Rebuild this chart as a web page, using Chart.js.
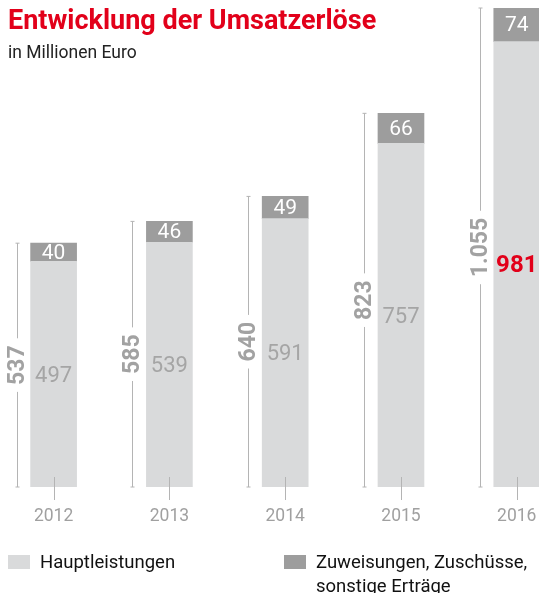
<!DOCTYPE html>
<html lang="de">
<head>
    <meta charset="UTF-8">
    <title>Entwicklung der Umsatzerlöse</title>
    <script src="https://cdn.jsdelivr.net/npm/chart.js"></script>
    <style>
        body {
            margin: 0;
            font-family: 'Roboto', sans-serif;
            background: #fff;
        }
        .wrap {
            position: relative;
            width: 539px;
            height: 593px;
            overflow: hidden;
        }
        .chart-box {
            position: absolute;
            left: 0;
            top: 0;
            width: 539px;
            height: 593px;
        }
        h1 {
            position: absolute;
            left: 8px;
            top: 4px;
            margin: 0;
            font-size: 27px;
            font-weight: bold;
            color: #e2001a;
            white-space: nowrap;
        }
        .sub {
            position: absolute;
            left: 8px;
            top: 42px;
            font-size: 17.5px;
            color: #222;
        }
        .legend-item {
            position: absolute;
            font-size: 18.5px;
            color: #111;
            line-height: 24px;
        }
        .legend-item span.box {
            position: absolute;
            left: 0;
            top: 5px;
            width: 22px;
            height: 14px;
        }
        .legend-item span.txt {
            display: block;
            margin-left: 32px;
        }
    </style>
</head>
<body>
<div class="wrap">
    <div class="chart-box"><canvas id="umsatzChart"></canvas></div>
    <h1 id="title"></h1>
    <div class="sub" id="subtitle"></div>
    <div class="legend-item" id="leg0" style="left:8px; top:550px; width:220px;"><span class="box"></span><span class="txt"></span></div>
    <div class="legend-item" id="leg1" style="left:284px; top:550px; width:255px;"><span class="box"></span><span class="txt"></span></div>
</div>

<script>
    const titleText = "Entwicklung der Umsatzerlöse";
    const subtitleText = "in Millionen Euro";

    const years = [2012, 2013, 2014, 2015, 2016];
    const hauptleistungen = [497, 539, 591, 757, 981];
    const zuweisungen = [40, 46, 49, 66, 74];
    const totals = [537, 585, 640, 823, 1055];
    const totalLabels = ["537", "585", "640", "823", "1.055"];
    const seriesNames = ["Hauptleistungen", "Zuweisungen, Zuschüsse,\nsonstige Erträge"];
    const highlightYear = 2016;

    const lightGray = "#d9dadb";
    const darkGray = "#9d9d9d";
    const red = "#e2001a";

    document.getElementById("title").textContent = titleText;
    document.getElementById("subtitle").textContent = subtitleText;
    [lightGray, darkGray].forEach((col, i) => {
        const el = document.getElementById("leg" + i);
        el.querySelector(".box").style.background = col;
        el.querySelector(".txt").innerHTML = seriesNames[i].replace("\n", "<br>");
    });

    // brackets, totals, value labels and tick marks
    const labelPlugin = {
        id: "labels",
        afterDatasetsDraw(chart) {
            const ctx = chart.ctx;
            const xs = chart.scales.x;
            const ys = chart.scales.y;
            const base = ys.getPixelForValue(0);
            ctx.save();
            years.forEach((yr, i) => {
                const x = xs.getPixelForValue(yr);

                // tick under the bar
                ctx.strokeStyle = "#b4b4b4";
                ctx.lineWidth = 1;
                ctx.beginPath();
                ctx.moveTo(Math.round(x) + 0.5, base - 10);
                ctx.lineTo(Math.round(x) + 0.5, base + 13);
                ctx.stroke();

                // bracket with total
                const bx = Math.round(x - 37) + 0.5;
                const top = ys.getPixelForValue(totals[i]);
                const mid = (top + base) / 2;
                ctx.font = "bold 23px Roboto";
                const w = ctx.measureText(totalLabels[i]).width;
                ctx.beginPath();
                ctx.moveTo(bx, top);
                ctx.lineTo(bx, mid - w / 2 - 7);
                ctx.moveTo(bx, mid + w / 2 + 7);
                ctx.lineTo(bx, base);
                ctx.moveTo(bx - 2, top);
                ctx.lineTo(bx + 2, top);
                ctx.moveTo(bx - 2, base);
                ctx.lineTo(bx + 2, base);
                ctx.stroke();

                ctx.save();
                ctx.translate(bx, mid);
                ctx.rotate(-Math.PI / 2);
                ctx.fillStyle = "#a2a2a2";
                ctx.textAlign = "center";
                ctx.textBaseline = "middle";
                ctx.fillText(totalLabels[i], 0, 1);
                ctx.restore();

                // value inside light segment
                const lightTop = ys.getPixelForValue(hauptleistungen[i]);
                ctx.textAlign = "center";
                ctx.textBaseline = "middle";
                if (yr === highlightYear) {
                    ctx.font = "bold 24px Roboto";
                    ctx.fillStyle = red;
                } else {
                    ctx.font = "22px Roboto";
                    ctx.fillStyle = "#a5a5a5";
                }
                ctx.fillText(hauptleistungen[i], x, (lightTop + base) / 2 + 2);

                // value inside dark segment
                ctx.font = "21px Roboto";
                ctx.fillStyle = "#ffffff";
                ctx.fillText(zuweisungen[i], x, (lightTop + top) / 2 + 1);
            });
            ctx.restore();
        }
    };

    const ctx = document.getElementById("umsatzChart").getContext("2d");
    const umsatzChart = new Chart(ctx, {
        type: "bar",
        data: {
            datasets: [{
                label: seriesNames[0],
                data: years.map((y, i) => ({ x: y, y: hauptleistungen[i] })),
                backgroundColor: lightGray,
                barThickness: 46
            }, {
                label: seriesNames[1],
                data: years.map((y, i) => ({ x: y, y: zuweisungen[i] })),
                backgroundColor: darkGray,
                barThickness: 46
            }]
        },
        options: {
            responsive: true,
            maintainAspectRatio: false,
            animation: false,
            layout: { padding: { top: 8, bottom: 65, left: 0, right: 0 } },
            plugins: {
                legend: { display: false },
                tooltip: { enabled: false }
            },
            scales: {
                x: {
                    type: "linear",
                    stacked: true,
                    offset: false,
                    min: 2011.537,
                    max: 2016.192,
                    afterBuildTicks: (axis) => { axis.ticks = years.map(v => ({ value: v })); },
                    ticks: {
                        callback: (v) => String(v),
                        color: "#a0a0a0",
                        font: { family: "Roboto", size: 17.5 },
                        padding: 1,
                        maxRotation: 0,
                        autoSkip: false
                    },
                    grid: {
                        display: true,
                        drawOnChartArea: false,
                        drawTicks: true,
                        tickLength: 18,
                        tickColor: "rgba(0,0,0,0)"
                    },
                    border: { display: false }
                },
                y: {
                    display: false,
                    stacked: true,
                    min: 0,
                    max: 1055
                }
            }
        },
        plugins: [labelPlugin]
    });
</script>
</body>
</html>
